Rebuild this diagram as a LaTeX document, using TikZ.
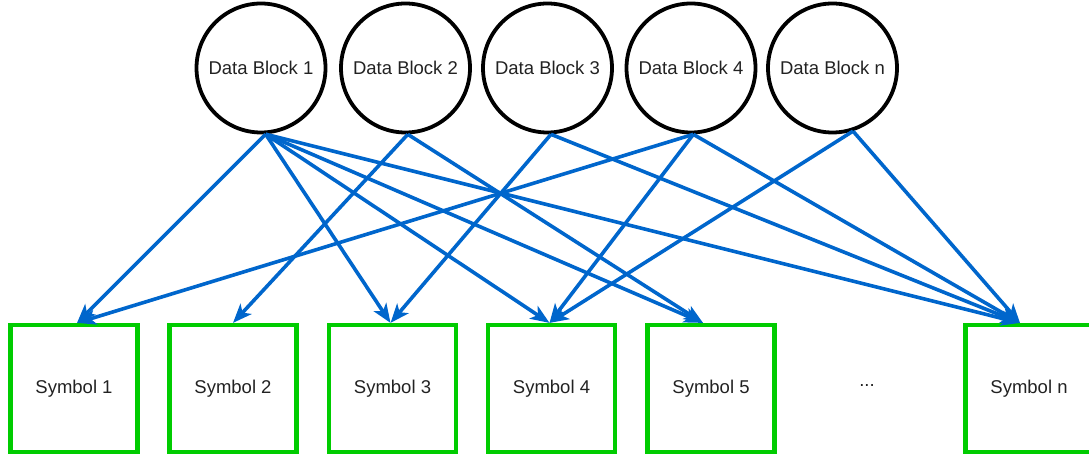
\documentclass[tikz,border=0pt]{standalone}
\usepackage{fontspec}
\setmainfont{Liberation Sans}
\usetikzlibrary{arrows.meta}
\definecolor{linkblue}{HTML}{0066CC}
\definecolor{boxgreen}{HTML}{00CC00}
\definecolor{labelgray}{HTML}{222222}

\begin{document}
\begin{tikzpicture}[x=1pt,y=-1pt,
  block/.style={circle,draw=black,line width=3.8pt,minimum size=129pt,inner sep=0pt,
    text=labelgray,font=\fontsize{18.5}{20}\selectfont},
  symbox/.style={rectangle,draw=boxgreen,line width=4.2pt,minimum size=127pt,inner sep=0pt,
    text=labelgray,font=\fontsize{18.5}{20}\selectfont},
  link/.style={draw=linkblue,line width=3.6pt,
    -{Stealth[length=19pt,width=15pt,inset=5pt]}}]
\useasboundingbox (0,0) rectangle (1089,454);

% data blocks
\node[block] (c1) at (261,68)   {Data Block 1};
\node[block] (c2) at (405.5,68) {Data Block 2};
\node[block] (c3) at (547.5,68) {Data Block 3};
\node[block] (c4) at (691,68)   {Data Block 4};
\node[block] (c5) at (832.5,68) {Data Block n};

% symbols
\node[symbox] (s1) at (74,388.5)    {Symbol 1};
\node[symbox] (s2) at (233,388.5)   {Symbol 2};
\node[symbox] (s3) at (392.5,388.5) {Symbol 3};
\node[symbox] (s4) at (551.5,388.5) {Symbol 4};
\node[symbox] (s5) at (711,388.5)   {Symbol 5};
\node[symbox] (sn) at (1029,388.5)  {Symbol n};
\node[text=labelgray,font=\fontsize{18.5}{20}\selectfont] (dots) at (867,386) {...};

% mapping of data blocks to symbols
\draw[link] (c1.-86.5) -- ([xshift=3pt]s1.north);
\draw[link] (c1.-86.5) -- ([xshift=-2pt]s3.north);
\draw[link] (c1.-86.5) -- ([xshift=-2pt]s4.north);
\draw[link] (c1.-86.5) -- ([xshift=-8pt]s5.north);
\draw[link] (c1.-86.5) -- ([xshift=-9pt]sn.north);

\draw[link] (c2.-88.7) -- (s2.north);
\draw[link] (c2.-88.7) -- ([xshift=-8pt]s5.north);

\draw[link] (c3.-87) -- ([xshift=-2pt]s3.north);
\draw[link] (c3.-87) -- ([xshift=-9pt]sn.north);

\draw[link] (c4.-88) -- ([xshift=3pt]s1.north);
\draw[link] (c4.-88) -- ([xshift=-2pt]s4.north);
\draw[link] (c4.-88) -- ([xshift=-9pt]sn.north);

\draw[link] (c5.-72.5) -- ([xshift=-2pt]s4.north);
\draw[link] (c5.-72.5) -- ([xshift=-9pt]sn.north);
\end{tikzpicture}
\end{document}
